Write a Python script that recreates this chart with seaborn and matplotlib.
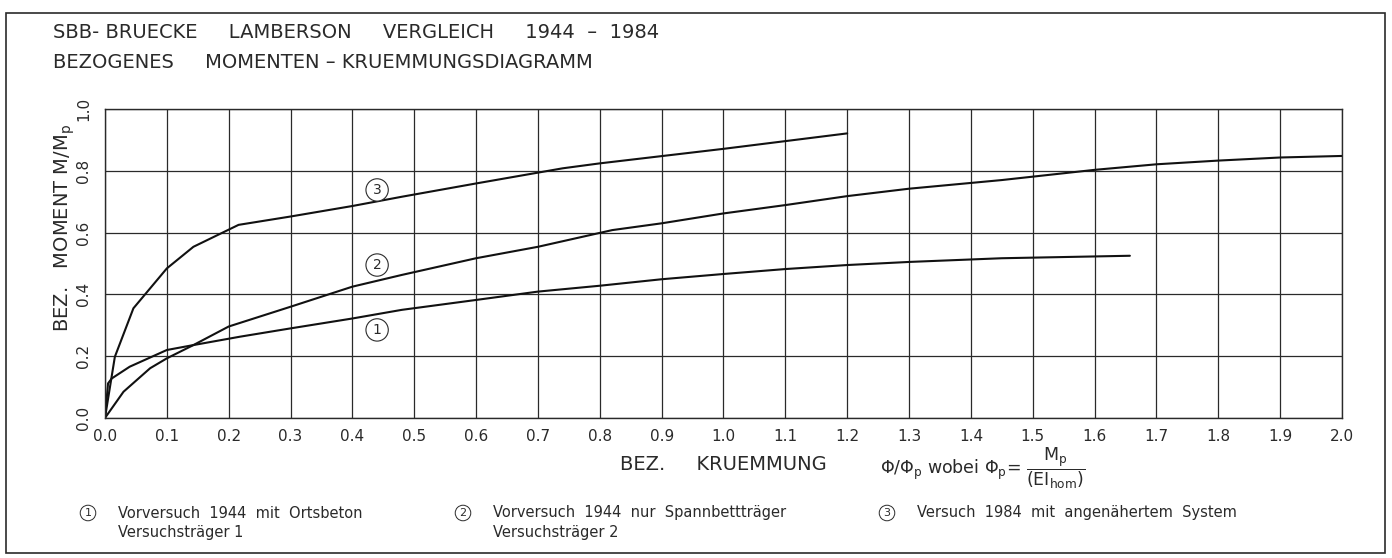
import numpy as np
import pandas as pd
import seaborn as sns
import matplotlib.pyplot as plt
from matplotlib.patches import Rectangle

# curve values
x_v1 = [0, 0.005, 0.011, 0.04, 0.10, 0.143, 0.218, 0.30, 0.40, 0.48, 0.60, 0.70,
        0.80, 0.90, 1.00, 1.10, 1.20, 1.30, 1.45, 1.657]
y_v1 = [0, 0.112, 0.128, 0.166, 0.22, 0.236, 0.263, 0.29, 0.322, 0.35, 0.382, 0.409,
        0.428, 0.449, 0.466, 0.482, 0.495, 0.505, 0.517, 0.525]

x_v2 = [0, 0.03, 0.073, 0.10, 0.143, 0.20, 0.30, 0.40, 0.48, 0.60, 0.70, 0.82, 0.90,
        1.0, 1.1, 1.2, 1.3, 1.45, 1.5, 1.6, 1.7, 1.8, 1.9, 2.0]
y_v2 = [0, 0.085, 0.161, 0.193, 0.236, 0.296, 0.36, 0.425, 0.463, 0.517, 0.554, 0.608, 0.63,
        0.662, 0.689, 0.718, 0.742, 0.770, 0.781, 0.803, 0.821, 0.833, 0.843, 0.848]

x_v3 = [0, 0.016, 0.046, 0.10, 0.143, 0.216, 0.30, 0.40, 0.48, 0.60, 0.74, 0.80, 1.0, 1.2]
y_v3 = [0, 0.198, 0.355, 0.484, 0.554, 0.625, 0.652, 0.686, 0.716, 0.759, 0.808, 0.824, 0.871, 0.921]

curve_ids = ["1", "2", "3"]
label_pos = [(0.44, 0.285), (0.44, 0.495), (0.44, 0.738)]
legend_line1 = ["Vorversuch  1944  mit  Ortsbeton",
                "Vorversuch  1944  nur  Spannbettträger",
                "Versuch  1984  mit  angenähertem  System"]
legend_line2 = ["Versuchsträger 1", "Versuchsträger 2", ""]

x_ticks = np.round(np.arange(0, 2.01, 0.1), 1)
y_ticks = np.round(np.arange(0, 1.01, 0.2), 1)

df = pd.concat([
    pd.DataFrame({"kruemmung": x_v1, "moment": y_v1, "versuch": "1"}),
    pd.DataFrame({"kruemmung": x_v2, "moment": y_v2, "versuch": "2"}),
    pd.DataFrame({"kruemmung": x_v3, "moment": y_v3, "versuch": "3"}),
])

sns.set_theme(style="white")
plt.rcParams["font.family"] = ["DejaVu Sans"]
ink = "#2a2a2a"

fig = plt.figure(figsize=(13.92, 5.58), dpi=100)
ax = fig.add_axes([0.0754, 0.2509, 0.8887, 0.5538])

for cid in curve_ids:
    sns.lineplot(data=df[df["versuch"] == cid], x="kruemmung", y="moment",
                 sort=False, estimator=None, color="#111111", lw=1.5, ax=ax)

ax.set_xlim(0, 2.0)
ax.set_ylim(0, 1.0)
ax.set_xticks(x_ticks)
ax.set_xticklabels([f"{v:.1f}" for v in x_ticks])
ax.set_yticks(y_ticks)
ax.set_yticklabels([f"{v:.1f}" for v in y_ticks], rotation=90, va="center")
ax.grid(True, color=ink, lw=0.9)
for s in ax.spines.values():
    s.set_color(ink)
    s.set_linewidth(1.0)
ax.tick_params(axis="both", direction="out", length=4, width=0.9, color=ink,
               labelsize=11, labelcolor=ink, pad=4)
ax.tick_params(axis="y", pad=6)
ax.set_xlabel("")
ax.set_ylabel("")

for cid, (px, py) in zip(curve_ids, label_pos):
    ax.text(px, py, cid, fontsize=10, ha="center", va="center", color=ink,
            bbox=dict(boxstyle="circle,pad=0.3", fc="white", ec=ink, lw=0.8))

# titles
fig.text(53 / 1392, 1 - 33 / 558, "SBB- BRUECKE     LAMBERSON     VERGLEICH     1944  –  1984",
         fontsize=14, color=ink, va="center", ha="left")
fig.text(53 / 1392, 1 - 63 / 558, "BEZOGENES     MOMENTEN – KRUEMMUNGSDIAGRAMM",
         fontsize=14, color=ink, va="center", ha="left")

# axis labels
fig.text(65 / 1392, 1 - 228 / 558, r"BEZ.   MOMENT M/M$_\mathrm{p}$", rotation=90,
         fontsize=14, color=ink, ha="center", va="center")
fig.text(723 / 1392, 1 - 465 / 558, "BEZ.     KRUEMMUNG", fontsize=14, color=ink,
         ha="center", va="center")
fig.text(880 / 1392, 1 - 468 / 558,
         r"$\Phi/\Phi_\mathrm{p}$ wobei $\Phi_\mathrm{p}$= $\dfrac{\mathrm{M_p}}{(\mathrm{EI_{hom}})}$",
         fontsize=12.5, color=ink, ha="left", va="center")

# legend at the bottom
circ_x = [88, 463, 887]
for cid, cx, l1, l2 in zip(curve_ids, circ_x, legend_line1, legend_line2):
    fig.text(cx / 1392, 1 - 513 / 558, cid, fontsize=8, color=ink, ha="center", va="center",
             bbox=dict(boxstyle="circle,pad=0.25", fc="white", ec=ink, lw=0.7))
    fig.text((cx + 30) / 1392, 1 - 513 / 558, l1, fontsize=10.5, color=ink, va="center")
    if l2:
        fig.text((cx + 30) / 1392, 1 - 533 / 558, l2, fontsize=10.5, color=ink, va="center")

fig.add_artist(Rectangle((6 / 1392, 5 / 558), 1379 / 1392, 540 / 558,
                         transform=fig.transFigure, fill=False, ec=ink, lw=1.2))

fig.savefig("out.png", dpi=100)
